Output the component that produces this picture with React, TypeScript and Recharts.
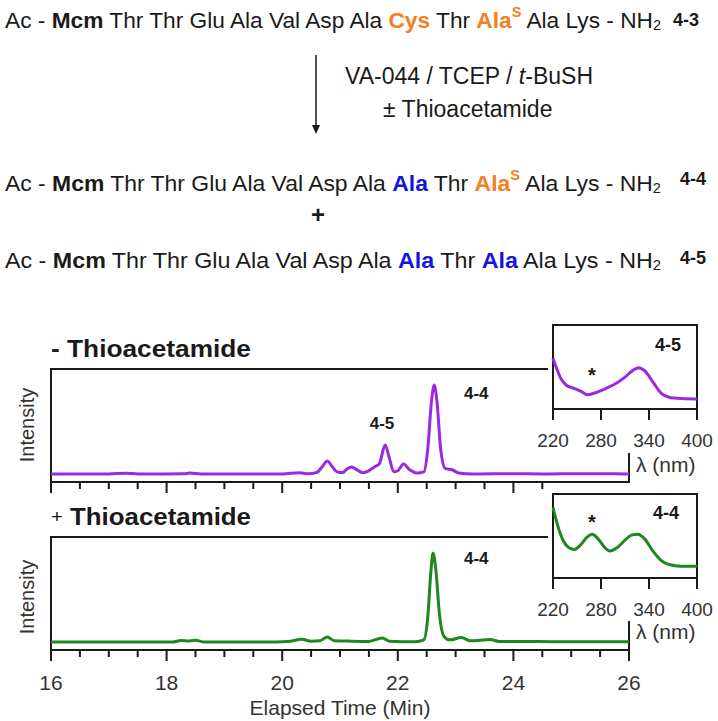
import { LineChart, Line, XAxis, YAxis, ReferenceArea } from "recharts";

const W = 718;
const H = 721;
const FONT = "'Liberation Sans', Arial, Helvetica, sans-serif";
const INK = "#1a1a1a";
const GREY = "#333";
const PURPLE = "#9B28E3";
const GREEN = "#1E871E";
const ORANGE = "#F2801E";
const BLUE = "#1414E0";

// elapsed time axis (min)
const timeTicks = [16, 16.5, 17, 17.5, 18, 18.5, 19, 19.5, 20, 20.5, 21, 21.5, 22, 22.5, 23, 23.5, 24, 24.5, 25, 25.5, 26];
const timeLabels = [16, 18, 20, 22, 24, 26];

// - thioacetamide trace
const topTime = [16, 17, 17.3, 17.5, 18.3, 18.4, 18.6, 19.6, 20, 20.3, 20.45, 20.6, 20.7, 20.78, 20.86, 20.95, 21.05, 21.12, 21.2, 21.3, 21.4, 21.5, 21.6, 21.68, 21.78, 21.85, 21.93, 22, 22.1, 22.2, 22.33, 22.45, 22.52, 22.58, 22.63, 22.68, 22.74, 22.82, 22.95, 23.05, 23.3, 24, 24.5, 25.2, 26];
const topSignal = [7.1, 7.1, 7.8, 7.1, 7.2, 7.9, 7.1, 7.1, 7.1, 8.2, 7.2, 8.5, 14, 18.6, 14, 9, 8.3, 11.5, 13.3, 10.5, 8.2, 10, 13.5, 16, 32.7, 22, 9, 10, 15.9, 11, 8, 9, 30, 70, 85.8, 70, 30, 12, 10.6, 8, 7.1, 7.3, 7.1, 7.3, 7.1];

// + thioacetamide trace
const bottomTime = [16, 18.1, 18.25, 18.4, 18.5, 18.65, 19.9, 20.1, 20.34, 20.5, 20.65, 20.78, 20.9, 21.2, 21.5, 21.73, 21.85, 22.3, 22.45, 22.52, 22.57, 22.61, 22.66, 22.72, 22.8, 22.9, 23.1, 23.25, 23.6, 23.75, 24.4, 25, 26];
const bottomSignal = [7.1, 7.1, 8.5, 8, 8.7, 7.1, 7.1, 7.5, 9.5, 7.8, 8.2, 11.5, 8.2, 7.8, 7.6, 10.6, 7.8, 7.3, 9, 30, 68, 85.8, 70, 32, 12, 9, 11, 8.2, 9.2, 7.6, 7.5, 7.3, 7.2];

// UV spectra insets
const nmTicks = [220, 280, 340, 400];
const spec45Nm = [220, 225, 230, 237, 245, 255, 263, 272, 285, 298, 310, 320, 327, 335, 345, 355, 365, 380, 400];
const spec45Abs = [0.6, 0.47, 0.36, 0.28, 0.25, 0.21, 0.17, 0.19, 0.24, 0.3, 0.38, 0.46, 0.49, 0.45, 0.32, 0.19, 0.14, 0.125, 0.12];
const spec44Nm = [220, 226, 233, 240, 247, 255, 263, 269, 276, 284, 291, 300, 310, 318, 326, 335, 345, 355, 365, 380, 400];
const spec44Abs = [0.84, 0.62, 0.44, 0.36, 0.34, 0.4, 0.49, 0.52, 0.47, 0.37, 0.32, 0.36, 0.45, 0.51, 0.52, 0.46, 0.32, 0.21, 0.16, 0.14, 0.14];

const topData = topTime.map((t, i) => ({ t, v: topSignal[i] }));
const bottomData = bottomTime.map((t, i) => ({ t, v: bottomSignal[i] }));
const spec45 = spec45Nm.map((nm, i) => ({ nm, a: spec45Abs[i] }));
const spec44 = spec44Nm.map((nm, i) => ({ nm, a: spec44Abs[i] }));

const abs = { position: "absolute" as const, left: 0, top: 0 };
const AXIS_H = 44;

// plot boxes (px)
const MAIN_L = 51;
const MAIN_R = 629;
const INSET_L = 553;
const INSET_R = 697;
const timeX = (t: number) => MAIN_L + ((t - 16) / 10) * (MAIN_R - MAIN_L);
const nmX = (nm: number) => INSET_L + ((nm - 220) / 180) * (INSET_R - INSET_L);

function TimeTick(props: any) {
  const { x, y, payload, showLabel } = props;
  const v = payload.value;
  return showLabel && timeLabels.includes(v) ? (
    <text x={x} y={y + 32} textAnchor="middle" dominantBaseline="central" fontSize={21} fill={GREY} fontFamily={FONT}>
      {v}
    </text>
  ) : (
    <g />
  );
}

function NmTick(props: any) {
  const { x, y, payload } = props;
  return (
    <text x={x} y={y + 31} textAnchor="middle" dominantBaseline="central" fontSize={19} fill={GREY} fontFamily={FONT}>
      {payload.value}
    </text>
  );
}

function Chromatogram({ data, color, top, labels }: { data: any[]; color: string; top: number; labels: boolean }) {
  const bottom = top + 113;
  return (
    <div style={abs}>
      <LineChart width={W} height={H} data={data} margin={{ top, left: MAIN_L, right: W - MAIN_R, bottom: H - bottom - AXIS_H }}>
        <XAxis
          type="number"
          dataKey="t"
          domain={[16, 26]}
          ticks={timeTicks}
          interval={0}
          height={AXIS_H}
          tickSize={0}
          tickMargin={0}
          axisLine={false}
          tickLine={false}
          tick={(p: any) => <TimeTick {...p} showLabel={labels} />}
        />
        <YAxis hide domain={[0, 100]} />
        <ReferenceArea x1={16} x2={26} y1={0} y2={100} fill="none" stroke={INK} strokeWidth={2} />
        <Line dataKey="v" type="monotone" stroke={color} strokeWidth={3} dot={false} isAnimationActive={false} />
      </LineChart>
    </div>
  );
}

function Spectrum({ data, color, top }: { data: any[]; color: string; top: number }) {
  const bottom = top + 84;
  return (
    <div style={abs}>
      <LineChart width={W} height={H} data={data} margin={{ top, left: INSET_L, right: W - INSET_R, bottom: H - bottom - AXIS_H }}>
        <XAxis
          type="number"
          dataKey="nm"
          domain={[220, 400]}
          ticks={nmTicks}
          interval={0}
          height={AXIS_H}
          tickSize={0}
          tickMargin={0}
          axisLine={false}
          tickLine={false}
          tick={(p: any) => <NmTick {...p} />}
        />
        <YAxis hide domain={[0, 1]} />
        <ReferenceArea x1={220} x2={400} y1={0} y2={1} fill="none" stroke={INK} strokeWidth={2} />
        <Line dataKey="a" type="monotone" stroke={color} strokeWidth={3} dot={false} isAnimationActive={false} />
      </LineChart>
    </div>
  );
}

function Scheme() {
  const t = { fontFamily: FONT, fill: INK };
  const peptide = (first: string, firstColor: string, second: string, secondColor: string, sup: boolean, y: number) => (
    <text x={5} y={y} fontSize={22} dominantBaseline="central" textLength={656} lengthAdjust="spacingAndGlyphs" {...t}>
      <tspan>{"Ac - "}</tspan>
      <tspan fontWeight="bold">Mcm</tspan>
      <tspan>{" Thr Thr Glu Ala Val Asp Ala "}</tspan>
      <tspan fontWeight="bold" fill={firstColor}>{first}</tspan>
      <tspan>{" Thr "}</tspan>
      <tspan fontWeight="bold" fill={secondColor}>{second}</tspan>
      {sup ? (
        <tspan fontWeight="bold" fill={secondColor} fontSize={14} dy={-8}>S</tspan>
      ) : null}
      <tspan dy={sup ? 8 : 0}>{" Ala Lys - NH"}</tspan>
      <tspan fontSize={14} dy={5}>2</tspan>
    </text>
  );
  return (
    <svg width={W} height={H} style={{ ...abs, pointerEvents: "none" }}>
      {peptide("Cys", ORANGE, "Ala", ORANGE, true, 20)}
      <text x={673} y={20} fontSize={18} fontWeight="bold" dominantBaseline="central" {...t}>4-3</text>
      <line x1={316} x2={316} y1={55} y2={126} stroke={INK} strokeWidth={1.5} />
      <polygon points="312,125 320,125 316,134" fill={INK} />
      <text x={345} y={76} fontSize={23} dominantBaseline="central" {...t}>
        <tspan>{"VA-044 / TCEP / "}</tspan>
        <tspan fontStyle="italic">t</tspan>
        <tspan>-BuSH</tspan>
      </text>
      <text x={383} y={109} fontSize={23} dominantBaseline="central" {...t}>± Thioacetamide</text>
      {peptide("Ala", BLUE, "Ala", ORANGE, true, 183)}
      <text x={680} y={179} fontSize={18} fontWeight="bold" dominantBaseline="central" {...t}>4-4</text>
      <text x={318} y={214} fontSize={24} fontWeight="bold" textAnchor="middle" dominantBaseline="central" {...t}>+</text>
      {peptide("Ala", BLUE, "Ala", BLUE, false, 260)}
      <text x={680} y={258} fontSize={18} fontWeight="bold" dominantBaseline="central" {...t}>4-5</text>
    </svg>
  );
}

function Labels() {
  const t = { fontFamily: FONT };
  return (
    <svg width={W} height={H} style={{ ...abs, pointerEvents: "none" }}>
      {/* tick marks of the time axes (top axis partly hidden behind the lower inset) */}
      {timeTicks
        .filter((v) => timeX(v) < 548)
        .map((v) => (
          <rect key={`a${v}`} x={timeX(v) - 1} y={481} width={2} height={v % 2 === 0 ? 12 : 8} fill={INK} />
        ))}
      {timeTicks.map((v) => (
        <rect key={`b${v}`} x={timeX(v) - 1} y={649} width={2} height={v % 2 === 0 ? 12 : 8} fill={INK} />
      ))}
      {nmTicks.map((v) => (
        <rect key={`c${v}`} x={nmX(v) - 1} y={408} width={2} height={12} fill={INK} />
      ))}
      {nmTicks.map((v) => (
        <rect key={`d${v}`} x={nmX(v) - 1} y={577} width={2} height={12} fill={INK} />
      ))}
      <text x={51} y={349} fontSize={23} fontWeight="bold" dominantBaseline="central" fill={INK} textLength={200} lengthAdjust="spacingAndGlyphs" {...t}>
        - Thioacetamide
      </text>
      <text x={51} y={517} fontSize={23} fontWeight="bold" dominantBaseline="central" fill={INK} textLength={200} lengthAdjust="spacingAndGlyphs" {...t}>
        <tspan fontWeight="normal" fontSize={18}>+</tspan>
        <tspan>{" Thioacetamide"}</tspan>
      </text>
      <text x={27} y={425} fontSize={20} fill={GREY} textAnchor="middle" dominantBaseline="central" transform="rotate(-90 27 425)" {...t}>Intensity</text>
      <text x={27} y={597} fontSize={20} fill={GREY} textAnchor="middle" dominantBaseline="central" transform="rotate(-90 27 597)" {...t}>Intensity</text>
      <text x={382} y={423} fontSize={17} fontWeight="bold" textAnchor="middle" dominantBaseline="central" fill={INK} {...t}>4-5</text>
      <text x={464} y={393} fontSize={17} fontWeight="bold" dominantBaseline="central" fill={INK} {...t}>4-4</text>
      <text x={464} y={558} fontSize={17} fontWeight="bold" dominantBaseline="central" fill={INK} {...t}>4-4</text>
      <text x={655} y={345} fontSize={18} fontWeight="bold" dominantBaseline="central" fill={INK} {...t}>4-5</text>
      <text x={592} y={375} fontSize={20} fontWeight="bold" textAnchor="middle" dominantBaseline="central" fill={INK} {...t}>*</text>
      <text x={653} y={513} fontSize={18} fontWeight="bold" dominantBaseline="central" fill={INK} {...t}>4-4</text>
      <text x={592} y={522} fontSize={20} fontWeight="bold" textAnchor="middle" dominantBaseline="central" fill={INK} {...t}>*</text>
      <text x={636} y={464} fontSize={21} fill={GREY} dominantBaseline="central" {...t}>λ (nm)</text>
      <text x={636} y={631} fontSize={21} fill={GREY} dominantBaseline="central" {...t}>λ (nm)</text>
      <text x={340} y={707} fontSize={21} fill={GREY} textAnchor="middle" dominantBaseline="central" {...t}>Elapsed Time (Min)</text>
    </svg>
  );
}

export default function App() {
  return (
    <div style={{ position: "relative", width: W, height: H, background: "#fff", overflow: "hidden" }}>
      <style>{"body{margin:0}"}</style>
      <Chromatogram data={topData} color={PURPLE} top={369} labels={false} />
      <Chromatogram data={bottomData} color={GREEN} top={537} labels={true} />
      <div style={{ position: "absolute", left: 548, top: 318, width: 170, height: 135, background: "#fff" }} />
      <div style={{ position: "absolute", left: 548, top: 484, width: 170, height: 137, background: "#fff" }} />
      <Spectrum data={spec45} color={PURPLE} top={325} />
      <Spectrum data={spec44} color={GREEN} top={494} />
      <Scheme />
      <Labels />
    </div>
  );
}
